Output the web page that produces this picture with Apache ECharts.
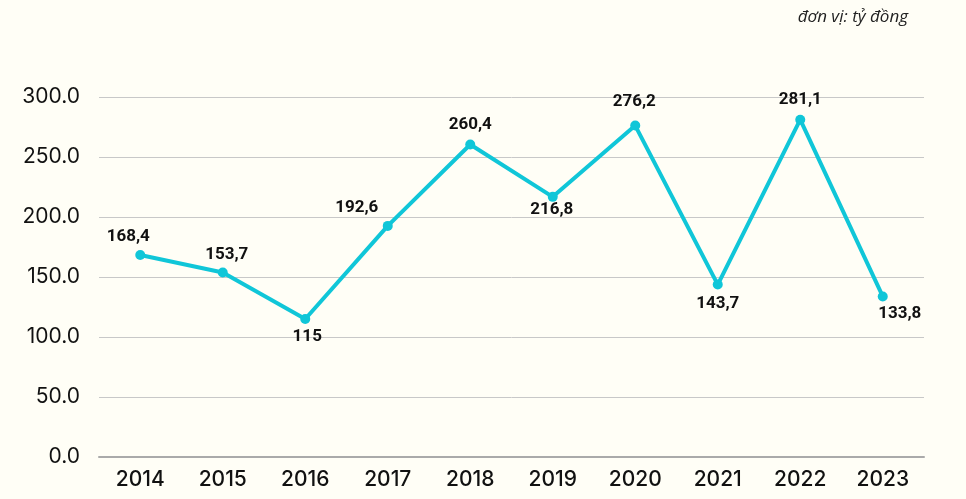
<!DOCTYPE html>
<html><head><meta charset="utf-8">
<script src="https://cdn.jsdelivr.net/npm/echarts@6/dist/echarts.min.js"></script>
<style>html,body{margin:0;padding:0;background:#fffef6;}#c{width:966px;height:499px;}</style>
</head><body><div id="c"></div>
<script>
const categories = ['2014','2015','2016','2017','2018','2019','2020','2021','2022','2023'];
const values = [168.4,153.7,115,192.6,260.4,216.8,276.2,143.7,281.1,133.8];
const labels = ['168,4','153,7','115','192,6','260,4','216,8','276,2','143,7','281,1','133,8'];

const labelOffsets = [[-12,-18],[4,-18],[2,18],[-31,-18],[0,-20],[-1,13],[-1,-24],[0,19],[0,-20],[17,17]];

const chart = echarts.init(document.getElementById('c'));
chart.setOption({
  backgroundColor:'#fffef6',
  animation:false,
  graphic:[{type:'text',right:58,top:9,style:{text:'đơn vị: tỷ đồng',font:'italic 17px "Open Sans"',fill:'#222'}}],
  grid:{left:99,right:42,top:97,bottom:42},
  xAxis:{type:'category',data:categories,boundaryGap:true,
    axisLine:{lineStyle:{color:'#aaaaaa',width:2}},axisTick:{show:false},
    axisLabel:{color:'#111',fontSize:21,fontWeight:500,fontFamily:'Inter',margin:12}},
  yAxis:{type:'value',min:0,max:300,interval:50,
    axisLine:{show:false},axisTick:{show:false},
    splitLine:{lineStyle:{color:'#c8c8c8',width:1}},
    axisLabel:{color:'#111',fontSize:21,fontFamily:'Inter',margin:19,formatter:v=>v.toFixed(1)}},
  series:[{type:'line',
    data:values.map((v,i)=>({value:v,label:{offset:labelOffsets[i]}})),
    lineStyle:{color:'#10c6d8',width:4},
    itemStyle:{color:'#10c6d8'},
    symbol:'circle',symbolSize:10,
    label:{show:true,position:'inside',color:'#111',fontWeight:'bold',fontSize:17,fontFamily:'Roboto',
      formatter:p=>labels[p.dataIndex]}
  }]
});
</script></body></html>
